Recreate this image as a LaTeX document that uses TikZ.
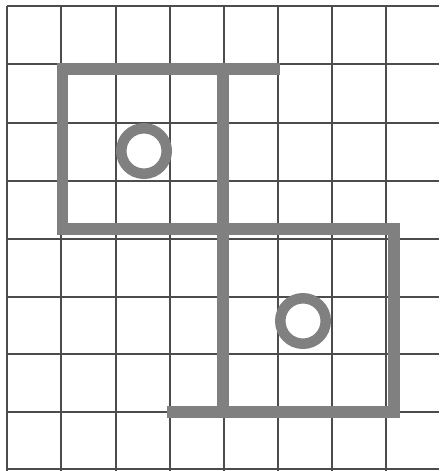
\documentclass[tikz,border=0pt]{standalone}
\begin{document}
\begin{tikzpicture}[x=1pt,y=-1pt,
  gridline/.style={draw=black!70,line width=1.1pt},
  wall/.style={draw=black!50,line width=11.5pt,line join=miter},
  ring/.style={draw=black!50,line width=10.5pt}]
\useasboundingbox[fill=white] (0,0) rectangle (439,471);
% grid
\foreach \x in {7,61,116,170,224,278,332,386}
  \draw[gridline] (\x,6) -- (\x,471);
\foreach \y in {6,64,123,181,239,297,354,412,469}
  \draw[gridline] (7,\y) -- (439,\y);
% walls
\draw[wall] (280,69) -- (62.5,69) -- (62.5,229) -- (394,229) -- (394,412) -- (167,412);
\draw[wall] (223,69) -- (223,412);
% rings
\draw[ring] (144,151) circle (22.75);
\draw[ring] (303,321) circle (22.75);
\end{tikzpicture}
\end{document}
